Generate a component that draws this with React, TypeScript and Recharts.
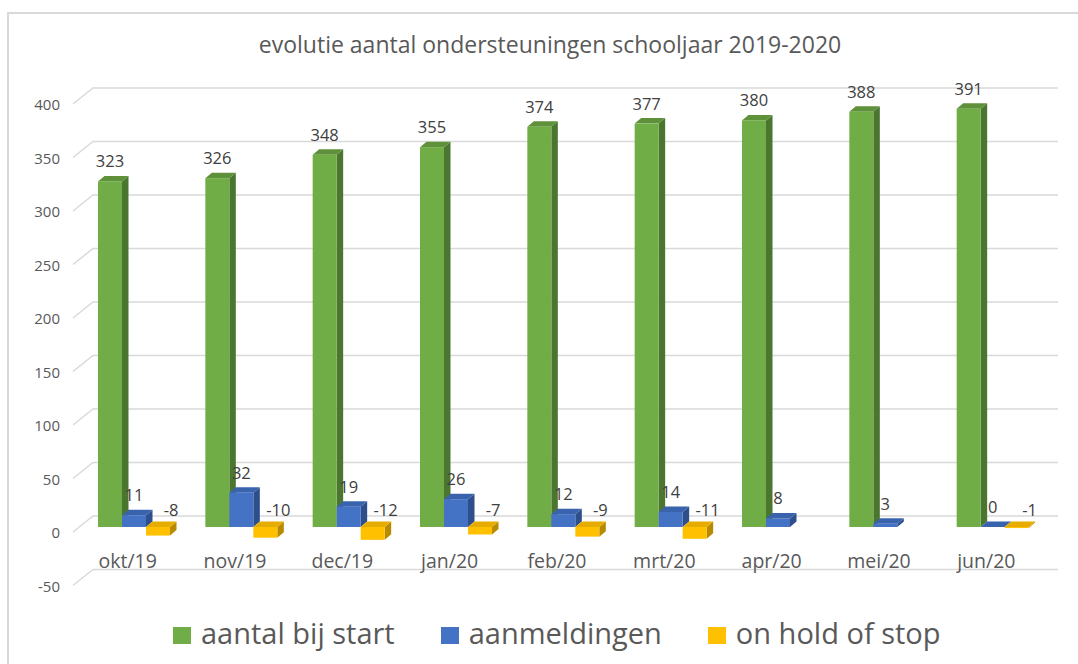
import React from 'react';
import { BarChart, Bar, XAxis, YAxis, CartesianGrid, LabelList } from 'recharts';

const months = ['okt/19', 'nov/19', 'dec/19', 'jan/20', 'feb/20', 'mrt/20', 'apr/20', 'mei/20', 'jun/20'];
const aantalBijStart = [323, 326, 348, 355, 374, 377, 380, 388, 391];
const aanmeldingen = [11, 32, 19, 26, 12, 14, 8, 3, 0];
const onHoldOfStop: (number | null)[] = [-8, -10, -12, -7, -9, -11, null, null, -1];
const yTicks = [-50, 0, 50, 100, 150, 200, 250, 300, 350, 400];
const seriesNames = ['aantal bij start', 'aanmeldingen', 'on hold of stop'];
const chartTitle = 'evolutie aantal ondersteuningen schooljaar 2019-2020';

const data = months.map((m, i) => ({
  month: m,
  start: aantalBijStart[i],
  aanm: aanmeldingen[i],
  hold: onHoldOfStop[i],
}));

const FONT = '"Open Sans", "Noto Sans", sans-serif';
const TEXT = '#595959';
const LABEL = '#404040';
const GRID = '#d9d9d9';
const DX = 6.5;
const DY = 5.5;

const colors = [
  { front: '#70AD47', side: '#4B7630', top: '#5E9139' },
  { front: '#4472C4', side: '#2E4F8C', top: '#3A63AE' },
  { front: '#FFC000', side: '#B88A00', top: '#E6AD00' },
];

const make3D = (c: { front: string; side: string; top: string }) => (p: any) => {
  const { x, y, width, height, value } = p;
  if (value == null || x == null || isNaN(y) || isNaN(height)) return <g />;
  const v = Array.isArray(value) ? value[1] - value[0] : value;
  if (v == null || isNaN(v)) return <g />;
  const top = Math.min(y, y + height);
  const h = Math.abs(height);
  const r = x + width;
  const side = `M${r},${top} L${r + DX},${top - DY} L${r + DX},${top + h - DY} L${r},${top + h} Z`;
  const topFace = `M${x},${top} L${x + DX},${top - DY} L${r + DX},${top - DY} L${r},${top} Z`;
  return (
    <g>
      <path d={side} fill={c.side} />
      <path d={topFace} fill={c.top} />
      {h > 0 && <rect x={x} y={top} width={width} height={h} fill={c.front} />}
    </g>
  );
};

const renderLabel = (p: any) => {
  const vb = p.viewBox || p;
  const x = p.x ?? vb.x;
  const y = p.y ?? vb.y;
  const width = p.width ?? vb.width;
  const height = p.height ?? vb.height;
  const value = p.value;
  if (value == null || x == null) return null;
  const top = Math.min(y, y + height);
  if (value < 0) {
    return (
      <text x={x + width / 2 + 13} y={top - 11} textAnchor="middle" fontFamily={FONT} fontSize={16.5} fill={LABEL}>
        {value}
      </text>
    );
  }
  return (
    <text x={x + width / 2} y={top - 14} textAnchor="middle" fontFamily={FONT} fontSize={16.5} fill={LABEL}>
      {value}
    </text>
  );
};

const gridLine = (p: any) => {
  const { x1, y1, x2 } = p;
  if (x1 == null || y1 == null) return <g />;
  const d = `M${x1 - 7},${y1 + 5} L${x1 + 13},${y1 - 11} L${x2 + 12},${y1 - 11}`;
  return <path key={p.key ?? `g-${y1}`} d={d} stroke={GRID} strokeWidth={1.5} fill="none" />;
};

const YTick = (p: any) => (
  <text x={p.x - 20} y={p.y + 5} textAnchor="end" dominantBaseline="central" fontFamily={FONT} fontSize={15} fill={TEXT}>
    {p.payload.value}
  </text>
);

const XTick = (p: any) => (
  <text x={p.x - 6} y={p.y - 12.5} textAnchor="middle" fontFamily={FONT} fontSize={19.5} fill={TEXT}>
    {p.payload.value}
  </text>
);

export default function App() {
  return (
    <div
      style={{
        position: 'absolute',
        left: 0,
        top: 0,
        width: 1078,
        height: 664,
        overflow: 'hidden',
        background: '#ffffff',
        fontFamily: FONT,
      }}
    >
      <div
        style={{
          position: 'absolute',
          left: 7,
          top: 12,
          width: 1200,
          height: 800,
          border: `2px solid ${GRID}`,
          boxSizing: 'border-box',
        }}
      />
      <div
        style={{
          position: 'absolute',
          left: 0,
          top: 32.5,
          width: 1100,
          textAlign: 'center',
          fontSize: 23,
          lineHeight: '23px',
          color: TEXT,
          whiteSpace: 'nowrap',
        }}
      >
        {chartTitle}
      </div>
      <div style={{ position: 'absolute', left: 0, top: 0 }}>
        <BarChart
          width={1078}
          height={664}
          data={data}
          margin={{ top: 99, right: 32, bottom: 53.5, left: 0 }}
          barCategoryGap={18}
          barGap={0}
        >
          <CartesianGrid horizontal={gridLine} vertical={false} />
          <XAxis
            dataKey="month"
            interval={0}
            axisLine={false}
            tickLine={false}
            tickSize={0}
            tickMargin={0}
            height={30}
            tick={<XTick />}
          />
          <YAxis
            type="number"
            domain={[-50, 400]}
            ticks={yTicks}
            interval={0}
            allowDataOverflow
            axisLine={false}
            tickLine={false}
            tickSize={0}
            tickMargin={0}
            width={80}
            tick={<YTick />}
          />
          <Bar dataKey="start" name={seriesNames[0]} fill={colors[0].front} isAnimationActive={false} shape={make3D(colors[0])}>
            <LabelList dataKey="start" content={renderLabel} />
          </Bar>
          <Bar dataKey="aanm" name={seriesNames[1]} fill={colors[1].front} isAnimationActive={false} shape={make3D(colors[1])}>
            <LabelList dataKey="aanm" content={renderLabel} />
          </Bar>
          <Bar dataKey="hold" name={seriesNames[2]} fill={colors[2].front} isAnimationActive={false} shape={make3D(colors[2])}>
            <LabelList dataKey="hold" content={renderLabel} />
          </Bar>
        </BarChart>
      </div>
      <div
        style={{
          position: 'absolute',
          left: 173,
          top: 618,
          display: 'flex',
          alignItems: 'flex-start',
          gap: 46,
          whiteSpace: 'nowrap',
        }}
      >
        {seriesNames.map((n, i) => (
          <div key={n} style={{ display: 'flex', alignItems: 'flex-start' }}>
            <div style={{ width: 18, height: 17, marginTop: 9, marginRight: 10, background: colors[i].front }} />
            <div style={{ fontSize: 29, lineHeight: '29px', color: TEXT }}>{n}</div>
          </div>
        ))}
      </div>
    </div>
  );
}
